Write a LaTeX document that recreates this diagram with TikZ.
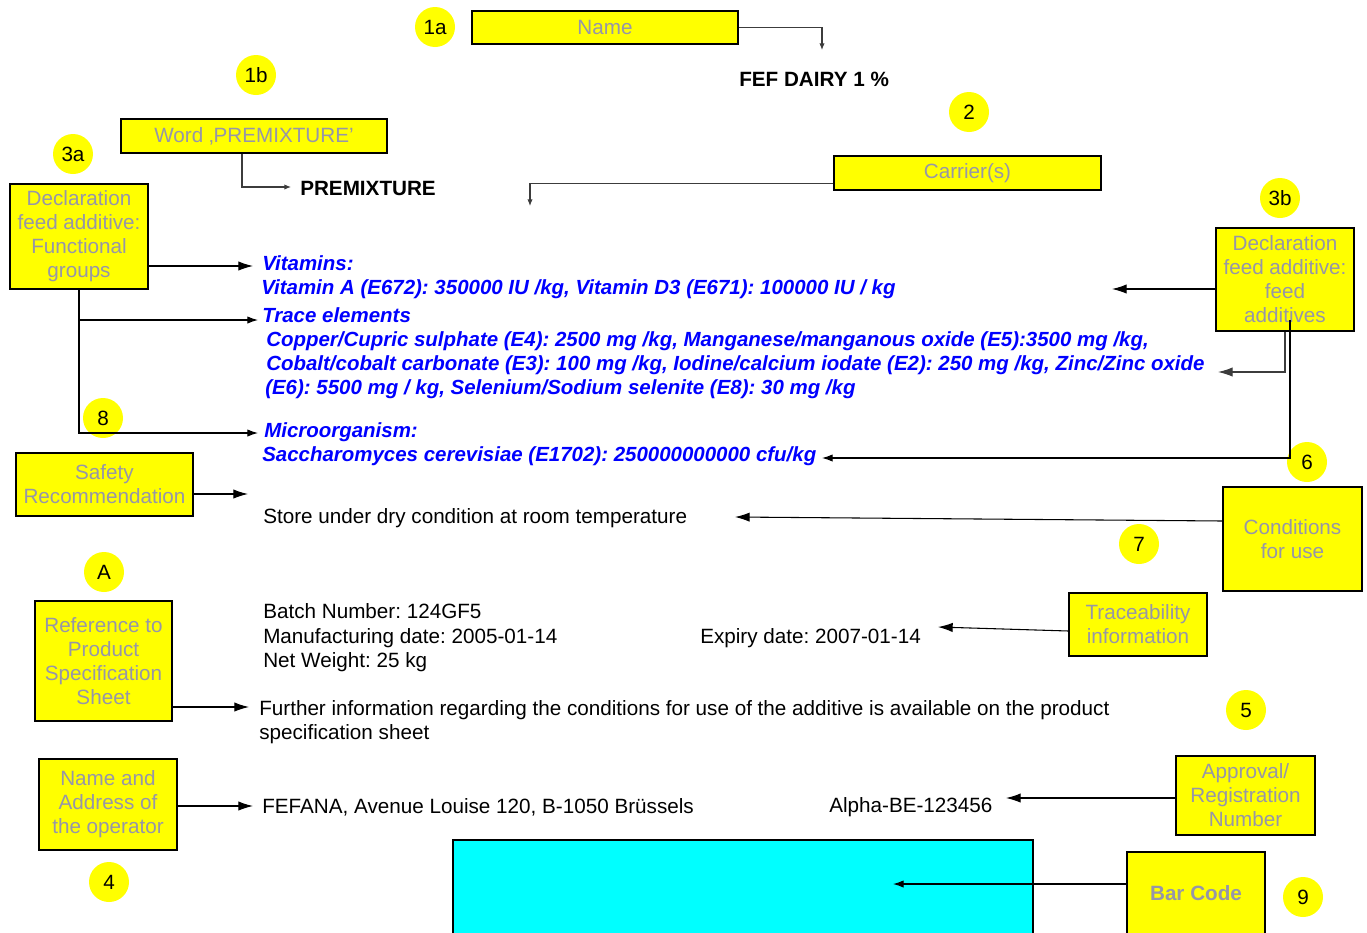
\documentclass[tikz,border=0pt]{standalone}
\usepackage{fontspec}
\setmainfont{Liberation Sans}
\usetikzlibrary{arrows.meta}
\definecolor{lblgray}{RGB}{150,150,168}
\definecolor{lnkgray}{RGB}{60,60,60}
\definecolor{barcyan}{RGB}{0,255,255}
\definecolor{boxyellow}{RGB}{255,255,0}
\newcommand{\lblfont}{\fontsize{15.5}{18}\selectfont}
\tikzset{
  lblbox/.style={draw=black, line width=0.8pt, fill=boxyellow, text=lblgray, align=center, inner sep=0pt, font=\lblfont},
  boxsize/.style 2 args={minimum width=#1*0.75pt, minimum height=#2*0.75pt},
  numdot/.style={circle, fill=boxyellow, minimum size=30pt, inner sep=0pt, font=\lblfont},
  txt/.style={anchor=base west, inner sep=0pt, font=\lblfont},
  bluetxt/.style={txt, text=blue, font=\fontsize{15.35}{18}\selectfont\bfseries\itshape},
  bigarr/.style={line width=0.8pt, -{Latex[length=11pt,width=7pt]}},
  midarr/.style={line width=0.8pt, -{Latex[length=8pt,width=5.5pt]}},
  tinyarr/.style={line width=0.8pt, draw=lnkgray, -{Latex[length=5pt,width=4pt]}}
}
\frenchspacing
\begin{document}
\begin{tikzpicture}[x=0.75pt,y=0.75pt,yscale=-1]
\useasboundingbox (0,0) rectangle (1367,932);
\clip (0,0) rectangle (1367,932);

%Shape: Rectangle [bar code area]
\draw[fill=barcyan, line width=0.8pt] (453,840) rectangle (1033,945);

%Shape: Label boxes
\node[lblbox, boxsize={266}{33}] (name) at (605,27.5) {Name};
\node[lblbox, boxsize={266}{34}] (word) at (254,136) {Word ‚PREMIXTURE’};
\node[lblbox, boxsize={267}{34}] (carrier) at (967.5,173) {Carrier(s)};
\node[lblbox, boxsize={138}{105}] (grp) at (79,236.5) {Declaration\\feed additive:\\Functional\\groups};
\node[lblbox, boxsize={138}{103}] (add) at (1285,279.5) {Declaration\\feed additive:\\feed\\additives};
\node[lblbox, boxsize={177}{63}] (safety) at (104.5,484.5) {Safety\\Recommendation};
\node[lblbox, boxsize={139}{104}] (cond) at (1292.5,539) {Conditions\\for use};
\node[lblbox, boxsize={138}{63}] (trc) at (1138,624.5) {Traceability\\information};
\node[lblbox, boxsize={137}{120}] (ref) at (103.5,661) {Reference to\\Product\\Specification\\Sheet};
\node[lblbox, boxsize={138}{91}] (oper) at (108,804.5) {Name and\\Address of\\the operator};
\node[lblbox, boxsize={139}{79}] (appr) at (1245.5,795.5) {Approval/\\Registration\\Number};
\node[lblbox, boxsize={138}{82}, font=\lblfont\bfseries] (bar) at (1196,893) {Bar Code};

%Shape: Circles
\node[numdot] (n1a) at (435,27) {1a};
\node[numdot] (n1b) at (256,75) {1b};
\node[numdot] (n3a) at (73,154) {3a};
\node[numdot] (n2) at (969,112) {2};
\node[numdot] (n3b) at (1280,198) {3b};
\node[numdot] (n8) at (103,418) {8};
\node[numdot] (n6) at (1307,462) {6};
\node[numdot] (n7) at (1139,544) {7};
\node[numdot] (nA) at (104,572) {A};
\node[numdot] (n5) at (1246,710) {5};
\node[numdot] (n4) at (109,882) {4};
\node[numdot] (n9) at (1303,897) {9};

% Text Node
\node[txt, font=\lblfont\bfseries] (dairy) at (739,86) {FEF DAIRY 1 \%};
\node[txt, font=\lblfont\bfseries] (prem) at (300,195) {PREMIXTURE};
\node[bluetxt] (vit) at (262,270) {Vitamins:};
\node[bluetxt] (vitA) at (261,294) {Vitamin A (E672): 350000 IU /kg, Vitamin D3 (E671): 100000 IU / kg};
\node[bluetxt] (tr) at (262,322) {Trace elements};
\node[bluetxt] (trA) at (266,346) {Copper/Cupric sulphate (E4): 2500 mg /kg, Manganese/manganous oxide (E5):3500 mg /kg,};
\node[bluetxt] (trB) at (266,370) {Cobalt/cobalt carbonate (E3): 100 mg /kg, Iodine/calcium iodate (E2): 250 mg /kg, Zinc/Zinc oxide};
\node[bluetxt] (trC) at (265,394) {(E6): 5500 mg / kg, Selenium/Sodium selenite (E8): 30 mg /kg};
\node[bluetxt] (mic) at (264,437) {Microorganism:};
\node[bluetxt] (micA) at (262,461) {Saccharomyces cerevisiae (E1702): 250000000000 cfu/kg};
\node[txt] (store) at (263,523) {Store under dry condition at room temperature};
\node[txt] (batch) at (263,618) {Batch Number: 124GF5};
\node[txt] (manuf) at (263,643) {Manufacturing date: 2005-01-14};
\node[txt] (net) at (263,667) {Net Weight: 25 kg};
\node[txt] (expiry) at (700,643) {Expiry date: 2007-01-14};
\node[txt] (further) at (259,715) {Further information regarding the conditions for use of the additive is available on the product};
\node[txt] (further2) at (259,739) {specification sheet};
\node[txt] (fefana) at (262,813) {FEFANA, Avenue Louise 120, B-1050 Brüssels};
\node[txt] (alpha) at (829,812) {Alpha-BE-123456};

% Arrow ends
\coordinate (dairytip) at (822,50);
\coordinate (premtip) at (291,187);
\coordinate (carriertip) at (530,206);
\coordinate (vittip) at (253,266);
\coordinate (trtip) at (258,320);
\coordinate (mictip) at (258,433);
\coordinate (vitDtip) at (1112,289);
\coordinate (zinctip) at (1218,372);
\coordinate (addin) at (1290,320);
\coordinate (cfutip) at (822,458);
\coordinate (safetip) at (248,494);
\coordinate (storetip) at (735,517);
\coordinate (exptip) at (938,627);
\coordinate (reftip) at (249,707);
\coordinate (opertip) at (253,806);
\coordinate (apprtip) at (1006,798);
\coordinate (bartip) at (893,884);

%Straight Lines
\draw[tinyarr] (name.east) -| (dairytip);
\draw[tinyarr] (word.south) ++(-12,0) |- (premtip);
\draw[tinyarr] (carrier.south west) ++(0,-7) -| (carriertip);
\draw[bigarr] (grp.east |- vittip) -- (vittip);
\draw[midarr] (grp.south |- trtip) -- (trtip);
\draw[midarr] (grp.south) |- (mictip);
\draw[bigarr] (add.west |- vitDtip) -- (vitDtip);
\draw[bigarr, draw=lnkgray] (add.south) |- (zinctip);
\draw[midarr] (addin) |- (cfutip);
\draw[bigarr] (safety.east |- safetip) -- (safetip);
\draw[bigarr] (cond.west) ++(0,-18) -- (storetip);
\draw[bigarr] (trc.west) ++(0,6.5) -- (exptip);
\draw[bigarr] (ref.east |- reftip) -- (reftip);
\draw[bigarr] (oper.east |- opertip) -- (opertip);
\draw[bigarr] (appr.west |- apprtip) -- (apprtip);
\draw[midarr] (bar.west |- bartip) -- (bartip);

\end{tikzpicture}
\end{document}
